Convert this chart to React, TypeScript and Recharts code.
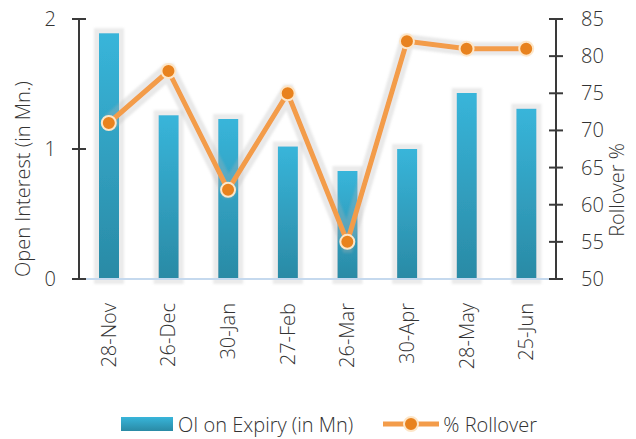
import { Bar, ComposedChart, Legend, Line, XAxis, YAxis } from 'recharts';

const expiries = ['28-Nov', '26-Dec', '30-Jan', '27-Feb', '26-Mar', '30-Apr', '28-May', '25-Jun'];
const oiOnExpiry = [1.89, 1.26, 1.23, 1.02, 0.83, 1.0, 1.43, 1.31];
const rolloverPct = [71, 78, 62, 75, 55, 82, 81, 81];
const oiTicks = [0, 1, 2];
const rolloverTicks = [50, 55, 60, 65, 70, 75, 80, 85];

const chartData = expiries.map((expiry, i) => ({
  expiry,
  oi: oiOnExpiry[i],
  rollover: rolloverPct[i],
}));

const FONT = '"Open Sans", sans-serif';
const WEIGHT = 300;
const TEXT = '#333333';
const AXIS = '#3a3a3a';

function LeftTick({ x, y, payload }: any) {
  return (
    <g>
      <line x1={x + 16} x2={x + 30} y1={y} y2={y} stroke={AXIS} strokeWidth={2} />
      <text x={x} y={y} dy={7} textAnchor="end" fill={TEXT} fontSize={20} fontWeight={WEIGHT} fontFamily={FONT}>
        {payload.value}
      </text>
    </g>
  );
}

function RightTick({ x, y, payload }: any) {
  return (
    <g>
      <line x1={x - 32} x2={x - 18} y1={y} y2={y} stroke={AXIS} strokeWidth={2} />
      <text x={x} y={y} dy={7} textAnchor="start" fill={TEXT} fontSize={20} fontWeight={WEIGHT} fontFamily={FONT}>
        {payload.value}
      </text>
    </g>
  );
}

function CategoryTick({ x, y, payload }: any) {
  return (
    <text
      transform={`translate(${x + 7},${y + 24}) rotate(-90)`}
      textAnchor="end"
      fill={TEXT}
      fontSize={20}
      fontWeight={WEIGHT}
      fontFamily={FONT}
    >
      {payload.value}
    </text>
  );
}

function renderLegend() {
  return (
    <div
      style={{
        display: 'flex',
        justifyContent: 'center',
        alignItems: 'center',
        paddingLeft: 22,
        fontFamily: FONT,
        fontWeight: WEIGHT,
        fontSize: 20,
        color: TEXT,
        height: 30,
      }}
    >
      <svg width={52} height={14} style={{ marginRight: 5 }}>
        <defs>
          <linearGradient id="legendBar" x1="0" y1="0" x2="0" y2="1">
            <stop offset="0%" stopColor="#38b5da" />
            <stop offset="100%" stopColor="#2a8aa5" />
          </linearGradient>
        </defs>
        <rect width={52} height={14} fill="url(#legendBar)" />
      </svg>
      <span>OI on Expiry (in Mn)</span>
      <svg width={56} height={20} style={{ marginLeft: 30, marginRight: 4 }}>
        <line x1={0} x2={56} y1={10} y2={10} stroke="#f39c4a" strokeWidth={5} />
        <circle cx={28} cy={10} r={7} fill="#e8821e" stroke="#fde6c8" strokeWidth={2} />
      </svg>
      <span>% Rollover</span>
    </div>
  );
}

function leftTitle({ viewBox }: any) {
  const cy = viewBox.y + viewBox.height / 2 + 30;
  return (
    <text
      transform={`translate(30,${cy}) rotate(-90)`}
      textAnchor="middle"
      fill={TEXT}
      fontSize={20}
      fontWeight={WEIGHT}
      fontFamily={FONT}
    >
      Open Interest (in Mn.)
    </text>
  );
}

function rightTitle({ viewBox }: any) {
  const cy = viewBox.y + viewBox.height / 2 + 41;
  return (
    <text
      transform={`translate(624,${cy}) rotate(-90)`}
      textAnchor="middle"
      fill={TEXT}
      fontSize={20}
      fontWeight={WEIGHT}
      fontFamily={FONT}
    >
      Rollover %
    </text>
  );
}

export default function App() {
  return (
    <div style={{ position: 'absolute', left: 0, top: 0, background: '#fff' }}>
      <style>{`
        .recharts-bar-rectangle path { filter: url(#barGlow); }
        .recharts-line { filter: url(#lineGlow); }
      `}</style>
      <ComposedChart
        width={636}
        height={439}
        data={chartData}
        margin={{ top: 19, right: 0, bottom: 0, left: 0 }}
      >
        <defs>
          <linearGradient id="barFill" x1="0" y1="0" x2="0" y2="1">
            <stop offset="0%" stopColor="#38b5da" />
            <stop offset="100%" stopColor="#2a8aa5" />
          </linearGradient>
          <filter id="barGlow" x="-60%" y="-10%" width="220%" height="120%">
            <feMorphology in="SourceAlpha" operator="dilate" radius="5" result="wide" />
            <feGaussianBlur in="wide" stdDeviation="1" result="soft" />
            <feFlood floodColor="#bcbcbc" floodOpacity="0.3" />
            <feComposite in2="soft" operator="in" result="halo" />
            <feMerge>
              <feMergeNode in="halo" />
              <feMergeNode in="SourceGraphic" />
            </feMerge>
          </filter>
          <filter id="lineGlow" x="-10%" y="-20%" width="120%" height="140%">
            <feMorphology in="SourceAlpha" operator="dilate" radius="4" result="wide" />
            <feGaussianBlur in="wide" stdDeviation="1" result="soft" />
            <feFlood floodColor="#b4b4b4" floodOpacity="0.3" />
            <feComposite in2="soft" operator="in" result="halo" />
            <feMerge>
              <feMergeNode in="halo" />
              <feMergeNode in="SourceGraphic" />
            </feMerge>
          </filter>
        </defs>
        <XAxis
          dataKey="expiry"
          interval={0}
          height={130}
          tickSize={0}
          tickMargin={0}
          tickLine={false}
          axisLine={{ stroke: '#c5d9ee', strokeWidth: 2 }}
          tick={<CategoryTick />}
        />
        <YAxis
          yAxisId="oi"
          orientation="left"
          domain={[0, 2]}
          ticks={oiTicks}
          width={79}
          tickSize={7}
          tickMargin={16}
          tickLine={false}
          axisLine={{ stroke: AXIS, strokeWidth: 2 }}
          tick={<LeftTick />}
          label={leftTitle}
        />
        <YAxis
          yAxisId="roll"
          orientation="right"
          domain={[50, 85]}
          ticks={rolloverTicks}
          width={80}
          tickSize={7}
          tickMargin={18}
          tickLine={false}
          axisLine={{ stroke: AXIS, strokeWidth: 2 }}
          tick={<RightTick />}
          label={rightTitle}
        />
        <Legend verticalAlign="bottom" height={30} content={renderLegend} />
        <Bar
          yAxisId="oi"
          dataKey="oi"
          name="OI on Expiry (in Mn)"
          fill="url(#barFill)"
          barSize={20}
          isAnimationActive={false}
        />
        <Line
          yAxisId="roll"
          dataKey="rollover"
          name="% Rollover"
          stroke="#f39c4a"
          strokeWidth={5}
          dot={{ r: 7, fill: '#e8821e', stroke: '#fde6c8', strokeWidth: 2 }}
          activeDot={false}
          isAnimationActive={false}
        />
      </ComposedChart>
    </div>
  );
}
